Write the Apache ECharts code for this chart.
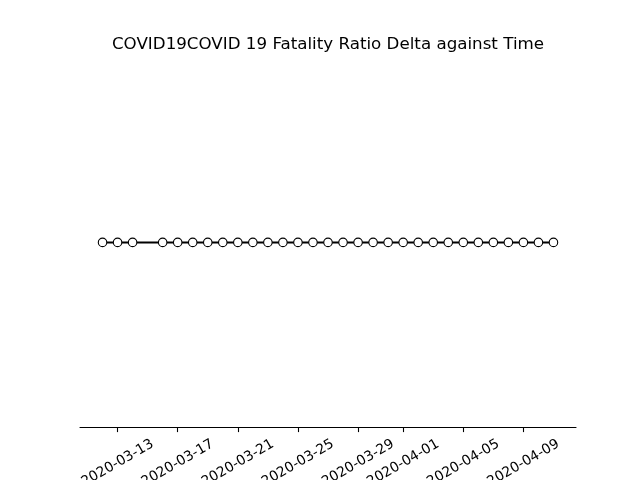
<!DOCTYPE html>
<html>
<head>
<meta charset="utf-8">
<script src="https://cdn.jsdelivr.net/npm/echarts@6/dist/echarts.min.js"></script>
<style>html,body{margin:0;padding:0;background:#fff}#c{width:640px;height:480px}</style>
</head>
<body>
<div id="c"></div>
<script>
var dates = ['2020-03-12','2020-03-13','2020-03-14','2020-03-16','2020-03-17','2020-03-18','2020-03-19','2020-03-20','2020-03-21','2020-03-22','2020-03-23','2020-03-24','2020-03-25','2020-03-26','2020-03-27','2020-03-28','2020-03-29','2020-03-30','2020-03-31','2020-04-01','2020-04-02','2020-04-03','2020-04-04','2020-04-05','2020-04-06','2020-04-07','2020-04-08','2020-04-09','2020-04-10','2020-04-11'];
var values = [0,0,0,0,0,0,0,0,0,0,0,0,0,0,0,0,0,0,0,0,0,0,0,0,0,0,0,0,0,0];
var tickLabels = ['2020-03-13','2020-03-17','2020-03-21','2020-03-25','2020-03-29','2020-04-01','2020-04-05','2020-04-09'];

var ts = dates.map(function(d){ return Date.parse(d + 'T00:00:00Z'); });
var tickTs = tickLabels.map(function(d){ return Date.parse(d + 'T00:00:00Z'); });
var span = ts[ts.length-1] - ts[0];
var xmin = ts[0] - span*0.05, xmax = ts[ts.length-1] + span*0.05;
function fmt(v){ var d = new Date(v); var m = d.getUTCMonth()+1, dd = d.getUTCDate(); return d.getUTCFullYear()+'-'+(m<10?'0':'')+m+'-'+(dd<10?'0':'')+dd; }

var chart = echarts.init(document.getElementById('c'), null, {renderer:'canvas'});
chart.setOption({
  animation: false,
  backgroundColor: '#ffffff',
  title: {
    text: 'COVID19COVID 19 Fatality Ratio Delta against Time',
    left: 323, top: 31, textAlign: 'center',
    textStyle: {fontFamily: 'DejaVu Sans', fontSize: 16.7, fontWeight: 'normal', color: '#000'}
  },
  grid: {left: 80, right: 64, top: 57.6, bottom: 52.8, containLabel: false, outerBoundsMode: 'none'},
  xAxis: {
    type: 'value', min: xmin, max: xmax,
    splitLine: {show: false},
    axisLine: {show: true, onZero: false, lineStyle: {color: '#000', width: 1.1}},
    axisTick: {show: true, customValues: tickTs, length: 4.9, lineStyle: {color: '#000', width: 1.1}},
    axisLabel: {
      customValues: tickTs, rotate: 30, align: 'center', verticalAlign: 'middle', margin: 36,
      fontFamily: 'DejaVu Sans', fontSize: 13.9, color: '#000',
      formatter: function(v){ return fmt(v); }
    }
  },
  yAxis: {
    type: 'value', min: -1, max: 1,
    show: false, splitLine: {show: false}
  },
  series: [{
    type: 'line',
    data: ts.map(function(t, i){ return [t, values[i]]; }),
    symbol: 'circle', symbolSize: 8.5,
    itemStyle: {color: '#ffffff', borderColor: '#000000', borderWidth: 1.1},
    lineStyle: {color: '#000000', width: 2},
    z: 3
  }]
});
</script>
</body>
</html>
